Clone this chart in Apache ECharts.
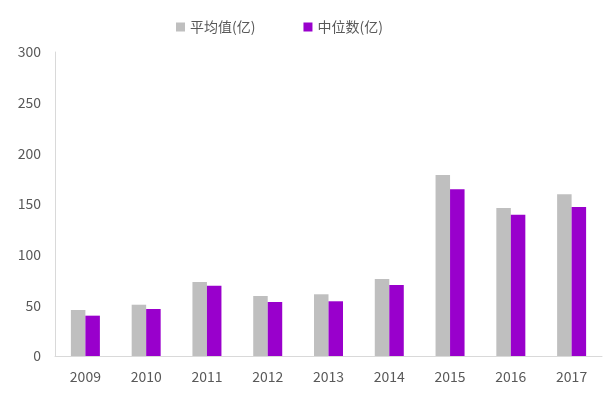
<!DOCTYPE html>
<html><head><meta charset="utf-8">
<script src="https://cdn.jsdelivr.net/npm/echarts@6/dist/echarts.min.js"></script>
<style>html,body{margin:0;padding:0;background:#fff}#c{width:612px;height:393px}</style>
</head><body><div id="c"></div>
<script>
const categories = ['2009','2010','2011','2012','2013','2014','2015','2016','2017'];
const meanValues = [45.4, 50.6, 73, 59.2, 60.9, 76, 178.6, 146, 159.6];
const medianValues = [39.8, 46.4, 69.4, 53.3, 54, 70, 164.5, 139.5, 147];
const seriesNames = ['平均值(亿)', '中位数(亿)'];
const yTicks = [0, 50, 100, 150, 200, 250, 300];

const font = '"Noto Sans CJK SC", "Noto Sans", sans-serif';
const chart = echarts.init(document.getElementById('c'));
chart.setOption({
  animation: false,
  textStyle: { fontFamily: font },
  legend: {
    top: 15, left: 171, itemWidth: 9, itemHeight: 9, itemGap: 48,
    icon: 'rect',
    textStyle: { color: '#595959', fontSize: 14, fontFamily: font }
  },
  grid: { left: 55, right: 10, top: 52, bottom: 37, containLabel: false },
  xAxis: {
    type: 'category', data: categories,
    axisLine: { lineStyle: { color: '#D9D9D9', width: 1 } },
    axisTick: { show: false },
    axisLabel: { color: '#595959', fontSize: 14, margin: 14, fontFamily: font }
  },
  yAxis: {
    type: 'value', min: yTicks[0], max: yTicks[yTicks.length-1], interval: 50,
    axisLine: { show: true, lineStyle: { color: '#D9D9D9', width: 1 } },
    axisTick: { show: false },
    splitLine: { show: false },
    axisLabel: { color: '#595959', fontSize: 14, margin: 14, fontFamily: font }
  },
  series: [
    { name: seriesNames[0], type: 'bar', data: meanValues, barWidth: 14.5, barGap: '0%',
      itemStyle: { color: '#BFBFBF' } },
    { name: seriesNames[1], type: 'bar', data: medianValues, barWidth: 14.5, barGap: '0%',
      itemStyle: { color: '#9900CC' } }
  ]
});
</script></body></html>
